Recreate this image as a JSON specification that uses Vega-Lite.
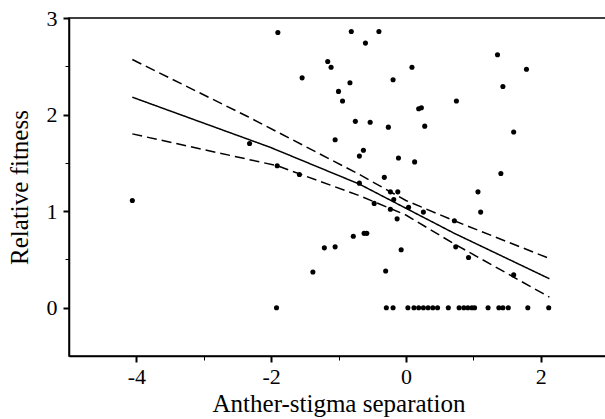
{
  "$schema": "https://vega.github.io/schema/vega-lite/v6.json",
  "width": 539,
  "height": 338,
  "autosize": {"type": "none"},
  "padding": {"left": 69, "top": 18, "right": 0, "bottom": 63},
  "background": "white",
  "config": {
    "view": {"stroke": "black", "strokeWidth": 1.5},
    "font": "Liberation Serif",
    "axis": {
      "domainColor": "black", "domainWidth": 1.5, "tickColor": "black",
      "labelColor": "black", "titleColor": "black", "grid": false,
      "titleFontWeight": "normal"
    }
  },
  "datasets": {
    "pts": [
      {"x": -4.06, "y": 1.11}, {"x": -2.32, "y": 1.70}, {"x": -1.91, "y": 1.47}, {"x": -1.58, "y": 1.38},
      {"x": -1.90, "y": 2.85}, {"x": -1.16, "y": 2.55}, {"x": -1.11, "y": 2.49}, {"x": -1.54, "y": 2.38},
      {"x": -1.05, "y": 1.74}, {"x": -1.38, "y": 0.37}, {"x": -1.21, "y": 0.62}, {"x": -1.05, "y": 0.63},
      {"x": -0.81, "y": 2.86}, {"x": -0.40, "y": 2.86}, {"x": -0.60, "y": 2.74}, {"x": 0.09, "y": 2.49},
      {"x": 1.36, "y": 2.62}, {"x": 1.79, "y": 2.47}, {"x": -0.83, "y": 2.33}, {"x": -0.19, "y": 2.36},
      {"x": 1.44, "y": 2.29}, {"x": -1.00, "y": 2.24}, {"x": -0.94, "y": 2.14}, {"x": 0.75, "y": 2.14},
      {"x": 0.19, "y": 2.06}, {"x": 0.23, "y": 2.07}, {"x": -0.75, "y": 1.93}, {"x": -0.53, "y": 1.92},
      {"x": -0.26, "y": 1.87}, {"x": 0.28, "y": 1.88}, {"x": 1.60, "y": 1.82}, {"x": -0.63, "y": 1.63},
      {"x": -0.69, "y": 1.57}, {"x": -0.11, "y": 1.55}, {"x": 0.13, "y": 1.51}, {"x": 1.41, "y": 1.39},
      {"x": -0.32, "y": 1.35}, {"x": -0.69, "y": 1.29}, {"x": 1.07, "y": 1.20}, {"x": -0.23, "y": 1.20},
      {"x": -0.12, "y": 1.20}, {"x": -0.18, "y": 1.12}, {"x": 1.11, "y": 0.99}, {"x": -0.47, "y": 1.08},
      {"x": -0.23, "y": 1.02}, {"x": 0.04, "y": 1.04}, {"x": 0.26, "y": 0.99}, {"x": -0.13, "y": 0.92},
      {"x": 0.72, "y": 0.90}, {"x": -0.78, "y": 0.74}, {"x": -0.62, "y": 0.77}, {"x": -0.58, "y": 0.77},
      {"x": -0.07, "y": 0.60}, {"x": 0.74, "y": 0.63}, {"x": 0.93, "y": 0.52}, {"x": -0.30, "y": 0.38},
      {"x": 1.60, "y": 0.34},
      {"x": -1.92, "y": 0}, {"x": -0.29, "y": 0}, {"x": -0.19, "y": 0}, {"x": 0.03, "y": 0},
      {"x": 0.12, "y": 0}, {"x": 0.19, "y": 0}, {"x": 0.26, "y": 0}, {"x": 0.33, "y": 0},
      {"x": 0.40, "y": 0}, {"x": 0.47, "y": 0}, {"x": 0.63, "y": 0}, {"x": 0.79, "y": 0},
      {"x": 0.86, "y": 0}, {"x": 0.92, "y": 0}, {"x": 0.98, "y": 0}, {"x": 1.02, "y": 0},
      {"x": 1.22, "y": 0}, {"x": 1.38, "y": 0}, {"x": 1.44, "y": 0}, {"x": 1.52, "y": 0},
      {"x": 1.81, "y": 0}, {"x": 2.12, "y": 0}
    ],
    "curves": [
      {"x": -4.06, "y": 2.18, "s": "fit"}, {"x": -2.01, "y": 1.66, "s": "fit"}, {"x": -0.69, "y": 1.28, "s": "fit"},
      {"x": 0.0, "y": 1.03, "s": "fit"}, {"x": 0.72, "y": 0.77, "s": "fit"}, {"x": 2.13, "y": 0.30, "s": "fit"},
      {"x": -4.06, "y": 2.57, "s": "upper"}, {"x": -2.35, "y": 1.98, "s": "upper"}, {"x": -0.69, "y": 1.38, "s": "upper"},
      {"x": 0.0, "y": 1.11, "s": "upper"}, {"x": 0.72, "y": 0.90, "s": "upper"}, {"x": 2.13, "y": 0.51, "s": "upper"},
      {"x": -4.06, "y": 1.80, "s": "lower"}, {"x": -1.91, "y": 1.47, "s": "lower"}, {"x": -0.69, "y": 1.16, "s": "lower"},
      {"x": 0.0, "y": 0.96, "s": "lower"}, {"x": 0.72, "y": 0.66, "s": "lower"}, {"x": 2.13, "y": 0.11, "s": "lower"}
    ]
  },
  "encoding": {
    "x": {
      "field": "x", "type": "quantitative",
      "scale": {"domain": [-5, 3], "nice": false, "zero": false},
      "axis": {
        "title": "Anther-stigma separation",
        "values": [-4, -3, -2, -1, 0, 1, 2],
        "labelExpr": "datum.value % 2 == 0 ? '' + datum.value : ''",
        "tickSize": {"condition": {"test": "datum.value % 2 == 0", "value": 6}, "value": 4},
        "tickWidth": {"condition": {"test": "datum.value % 2 == 0", "value": 2}, "value": 1},
        "labelFont": "Liberation Serif", "titleFont": "Liberation Serif",
        "labelFontSize": 22, "titleFontSize": 25,
        "labelPadding": 4, "titlePadding": 4, "labelFlush": false
      }
    },
    "y": {
      "field": "y", "type": "quantitative",
      "scale": {"domain": [-0.5, 3], "nice": false, "zero": false},
      "axis": {
        "title": "Relative fitness",
        "values": [0, 0.5, 1, 1.5, 2, 2.5, 3],
        "labelExpr": "datum.value % 1 == 0 ? '' + datum.value : ''",
        "tickSize": {"condition": {"test": "datum.value % 1 == 0", "value": 6}, "value": 4},
        "tickWidth": {"condition": {"test": "datum.value % 1 == 0", "value": 2}, "value": 1},
        "labelFont": "Liberation Serif", "titleFont": "Liberation Serif",
        "labelFontSize": 22, "titleFontSize": 25,
        "labelPadding": 6, "titlePadding": 14, "labelFlush": false
      }
    }
  },
  "layer": [
    {
      "data": {"name": "curves"},
      "mark": {"type": "line", "color": "black", "strokeWidth": 1.5},
      "encoding": {
        "detail": {"field": "s"},
        "strokeDash": {
          "field": "s", "type": "nominal",
          "scale": {"domain": ["fit", "upper", "lower"], "range": [[1, 0], [10, 5], [10, 5]]},
          "legend": null
        }
      }
    },
    {
      "data": {"name": "pts"},
      "mark": {"type": "circle", "color": "black", "opacity": 1, "size": 26}
    }
  ]
}
